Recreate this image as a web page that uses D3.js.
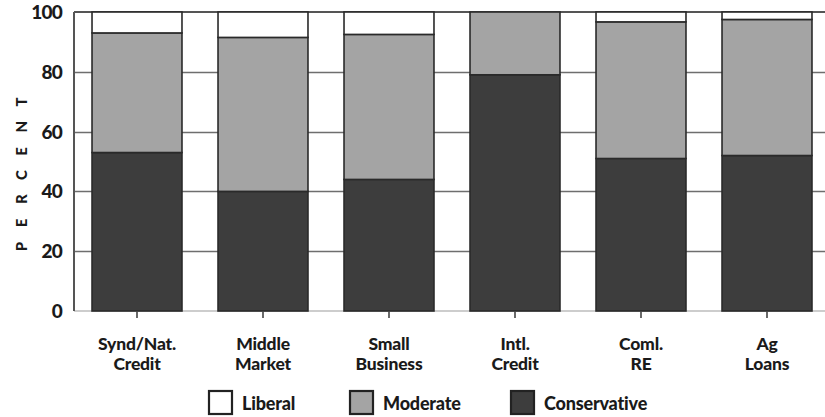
<!DOCTYPE html>
<html><head><meta charset="utf-8">
<script src="https://cdn.jsdelivr.net/npm/d3@7/dist/d3.min.js"></script>
<style>
body{margin:0;background:#fff;}
text{font-family:"Lato","DejaVu Sans",sans-serif;font-weight:900;fill:#1a1a1a;}
</style></head>
<body><svg id="c" width="825" height="417"></svg>
<script>
const categories = [["Synd/Nat.","Credit"],["Middle","Market"],["Small","Business"],["Intl.","Credit"],["Coml.","RE"],["Ag","Loans"]];
const conservative = [53, 40, 44, 79, 51, 52];
const moderate = [40, 51.5, 48.5, 21, 45.7, 45.5];
const liberal = [7, 8.5, 7.5, 0, 3.3, 2.5];
const seriesNames = ["Conservative","Moderate","Liberal"];
const yTicks = [0, 20, 40, 60, 80, 100];
const colors = {Conservative:"#3d3d3d", Moderate:"#a4a4a4", Liberal:"#ffffff"};

const svg = d3.select("#c");
const m = {left:74, top:12, right:-5, bottom:106};
const W = 825 - m.left - m.right;
const g = svg.append("g").attr("transform",`translate(${m.left},${m.top})`);

const keys = categories.map(c=>c.join(" "));
const x = d3.scaleBand().domain(keys).range([0, 756]).paddingInner(0.286).paddingOuter(0.143);
const y = d3.scaleLinear().domain([0,100]).range([299,0]);

// grid lines
g.selectAll("line.grid").data(yTicks.filter(t=>t>0 && t<100)).join("line").attr("class","grid")
  .attr("x1",0).attr("x2",W).attr("y1",d=>Math.round(y(d))+0.5).attr("y2",d=>Math.round(y(d))+0.5)
  .style("stroke","#6e6e6e").style("stroke-width","1.6px");
g.append("line").attr("x1",0).attr("x2",W).attr("y1",y(0)).attr("y2",y(0)).style("stroke","#bdbdbd").style("stroke-width","1.5px");
g.append("line").attr("x1",0).attr("x2",W).attr("y1",y(100)).attr("y2",y(100)).style("stroke","#555").style("stroke-width","2px");
g.append("line").attr("x1",0).attr("x2",0).attr("y1",y(100)).attr("y2",y(0)).style("stroke","#555").style("stroke-width","2px");

const data = keys.map((k,i)=>({key:k, Conservative:conservative[i], Moderate:moderate[i], Liberal:liberal[i]}));
const stack = d3.stack().keys(seriesNames)(data);
stack.forEach(s=>{
  g.selectAll(null).data(s.filter(d=>d[1]-d[0]>0)).enter().append("rect")
    .attr("x",d=>x(d.data.key)).attr("width",x.bandwidth())
    .attr("y",d=>y(d[1])).attr("height",d=>y(d[0])-y(d[1]))
    .attr("fill",colors[s.key]).attr("stroke","#2a2a2a").attr("stroke-width",1.6);
});

// x ticks
g.selectAll(".xt").data(keys).enter().append("line")
  .attr("x1",d=>x(d)+x.bandwidth()/2).attr("x2",d=>x(d)+x.bandwidth()/2)
  .attr("y1",y(0)).attr("y2",y(0)+7).style("stroke","#444").style("stroke-width","1.6px");

// x labels
const xl = g.selectAll(".xl").data(categories).enter().append("text")
  .attr("text-anchor","middle").attr("font-size",17.5).attr("letter-spacing","-0.2");
xl.each(function(d,i){
  const t = d3.select(this); const cx = x(keys[i])+x.bandwidth()/2;
  d.forEach((line,j)=>t.append("tspan").attr("x",cx).attr("y",y(0)+39+j*20).text(line));
});

// y labels
g.selectAll(".yl").data(yTicks).enter().append("text")
  .attr("x",-12).attr("y",d=>y(d)+7).attr("text-anchor","end").attr("font-size",19)
  .attr("letter-spacing","-0.8").text(d=>d);

svg.append("text").attr("transform","translate(27,167) rotate(-90)")
  .attr("text-anchor","middle").attr("font-size",15).attr("letter-spacing","14.5").text("PERCENT");

// legend
const legX = [208, 349, 510];
const legOrder = ["Liberal","Moderate","Conservative"];
legOrder.forEach((n,i)=>{
  svg.append("rect").attr("x",legX[i]+1).attr("y",391).attr("width",23).attr("height",23)
    .attr("fill",colors[n]).attr("stroke","#222").attr("stroke-width",2.2);
  svg.append("text").attr("x",legX[i]+34).attr("y",410).attr("font-size",18).attr("letter-spacing","-0.2").text(n);
});
</script></body></html>
